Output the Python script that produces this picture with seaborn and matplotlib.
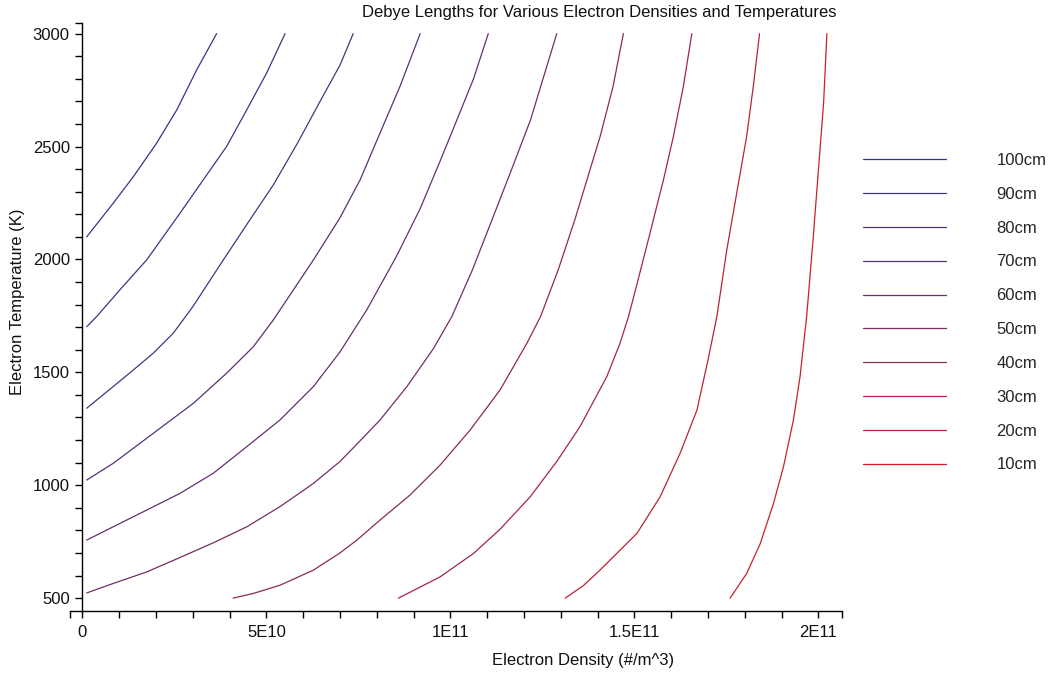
import numpy as np
import pandas as pd
import matplotlib
matplotlib.use("Agg")
import matplotlib.pyplot as plt
from matplotlib.ticker import FixedLocator
import seaborn as sns

# ---------------- data (density in units of 1e10 #/m^3, temperature in K) ----------------
SCALE = 1e10
labels = ["100cm", "90cm", "80cm", "70cm", "60cm", "50cm", "40cm", "30cm", "20cm", "10cm"]

dens_100 = [0.12, 0.84, 1.39, 2.02, 2.57, 3.11, 3.65]
temp_100 = [2100, 2249, 2367, 2515, 2663, 2840, 3000]

dens_90 = [0.12, 0.39, 1.02, 1.75, 2.655, 3.29, 3.92, 4.47, 5.01, 5.51]
temp_90 = [1702, 1747, 1865, 1998, 2205, 2353, 2500, 2663, 2826, 3000]

dens_80 = [0.12, 0.84, 1.39, 1.93, 2.47, 3.0, 3.74, 4.47, 5.19, 5.83, 6.46, 7.0, 7.36]
temp_80 = [1341, 1437, 1511, 1585, 1673, 1790, 1975, 2155, 2330, 2510, 2700, 2860, 3000]

dens_70 = [0.12, 0.84, 1.57, 2.29, 3.02, 3.92, 4.65, 5.19, 6.28, 7.0, 7.55, 8.09, 8.63, 9.18]
temp_70 = [1023, 1097, 1186, 1274, 1363, 1496, 1614, 1732, 1998, 2184, 2353, 2560, 2766, 3000]

dens_60 = [0.12, 0.84, 1.75, 2.655, 3.56, 4.47, 5.37, 6.28, 7.0, 7.73, 8.54, 9.18, 9.72, 10.17, 10.63, 11.03]
temp_60 = [757, 816, 890, 964, 1053, 1171, 1289, 1437, 1590, 1777, 2015, 2225, 2435, 2615, 2800, 3000]

dens_50 = [0.12, 0.84, 1.75, 2.655, 3.56, 4.47, 5.37, 6.28, 7.0, 7.36, 8.09, 8.82, 9.54, 10.04,
           10.60, 11.13, 11.66, 12.18, 12.89]
temp_50 = [523, 565, 616, 680, 745, 816, 905, 1008, 1105, 1165, 1289, 1437, 1605, 1747,
           1954, 2175, 2397, 2619, 3000]

dens_40 = [4.10, 4.65, 5.37, 6.28, 7.0, 7.46, 8.09, 8.90, 9.72, 10.54, 11.35, 12.08, 12.45,
           12.93, 13.38, 14.07, 14.42, 14.70]
temp_40 = [500, 521, 557, 624, 700, 757, 846, 956, 1089, 1245, 1422, 1629, 1747,
           1954, 2175, 2545, 2766, 3000]

dens_30 = [8.59, 9.72, 10.63, 11.35, 12.17, 12.89, 13.52, 14.25, 14.61, 14.84, 15.10, 15.40,
           15.79, 16.06, 16.33, 16.56]
temp_30 = [500, 594, 698, 805, 949, 1105, 1259, 1481, 1629, 1747, 1910, 2101,
           2353, 2545, 2766, 3000]

dens_20 = [13.12, 13.61, 14.07, 15.07, 15.70, 16.24, 16.70, 17.00, 17.24, 17.51, 17.78, 18.05, 18.23, 18.40]
temp_20 = [500, 555, 625, 787, 949, 1141, 1333, 1555, 1747, 2042, 2294, 2545, 2766, 3000]

dens_10 = [17.60, 18.05, 18.42, 18.78, 19.05, 19.32, 19.50, 19.68, 19.86, 20.0, 20.14, 20.23]
temp_10 = [500, 609, 742, 920, 1082, 1289, 1481, 1747, 2101, 2397, 2693, 3000]

x_tick_values = [0, 5e10, 1e11, 1.5e11, 2e11]
x_tick_labels = ["0", "5E10", "1E11", "1.5E11", "2E11"]
y_tick_values = [500, 1000, 1500, 2000, 2500, 3000]
y_tick_labels = ["500", "1000", "1500", "2000", "2500", "3000"]

title = "Debye Lengths for Various Electron Densities and Temperatures"
xlabel = "Electron Density (#/m^3)"
ylabel = "Electron Temperature (K)"

# ---------------- build long-form table ----------------
curves = [
    (dens_100, temp_100), (dens_90, temp_90), (dens_80, temp_80), (dens_70, temp_70),
    (dens_60, temp_60), (dens_50, temp_50), (dens_40, temp_40), (dens_30, temp_30),
    (dens_20, temp_20), (dens_10, temp_10),
]
frames = []
for lab, (d, t) in zip(labels, curves):
    frames.append(pd.DataFrame({"density": np.asarray(d) * SCALE, "temp": t, "label": lab}))
df = pd.concat(frames, ignore_index=True)

# ---------------- style ----------------
sns.set_style("white")
plt.rcParams["font.family"] = ["Liberation Sans", "DejaVu Sans"]
plt.rcParams["font.size"] = 12

W, H = 1060, 675
fig = plt.figure(figsize=(W / 100, H / 100), dpi=100)
ax = fig.add_axes([70 / W, 1 - 611 / H, 772 / W, 588 / H])

colors = sns.blend_palette(["#36358c", "#6a2f6c", "#cc2028"], len(labels))

sns.lineplot(data=df, x="density", y="temp", hue="label", hue_order=labels,
             palette=colors, sort=False, estimator=None, linewidth=0.9, ax=ax)

ax.set_xlim(-3.34e9, 2.064e11)
ax.set_ylim(443, 3047)

ax.spines["top"].set_visible(False)
ax.spines["right"].set_visible(False)
ax.spines["left"].set_position(("data", 0))
for s in ("left", "bottom"):
    ax.spines[s].set_linewidth(1.0)
    ax.spines[s].set_color("black")

ax.set_xticks(x_tick_values)
ax.set_xticklabels(x_tick_labels)
ax.set_yticks(y_tick_values)
ax.set_yticklabels(y_tick_labels)
ax.xaxis.set_minor_locator(FixedLocator([-3.34e9] + [i * 1e10 for i in range(1, 21) if i % 5] + [2.064e11]))
ax.yaxis.set_minor_locator(FixedLocator([v for v in range(600, 3001, 100) if v % 500] + [3047]))
ax.tick_params(axis="both", which="both", direction="out", length=5, width=1.0,
               color="black", labelsize=12, labelcolor="#111111")
ax.tick_params(axis="x", which="both", pad=5, bottom=True)
ax.tick_params(axis="y", which="both", pad=4, left=True)

ax.set_xlabel("")
ax.set_ylabel("")
fig.text(583 / W, 1 - 661 / H, xlabel, ha="center", va="center", fontsize=12, color="#111111")
fig.text(18 / W, 1 - 302 / H, ylabel, ha="center", va="center", rotation=90, fontsize=12, color="#111111")
fig.text(837 / W, 1 - 12 / H, title, ha="right", va="center", fontsize=12, color="#111111")

handles, labs = ax.get_legend_handles_labels()
ax.legend(handles, labs, loc="upper left", bbox_to_anchor=(863 / W, 1 - 153 / H),
          bbox_transform=fig.transFigure, frameon=False, handlelength=5.0,
          handletextpad=3.0, labelspacing=1.13, borderpad=0, borderaxespad=0, fontsize=12)

fig.savefig("out.png", dpi=100)
